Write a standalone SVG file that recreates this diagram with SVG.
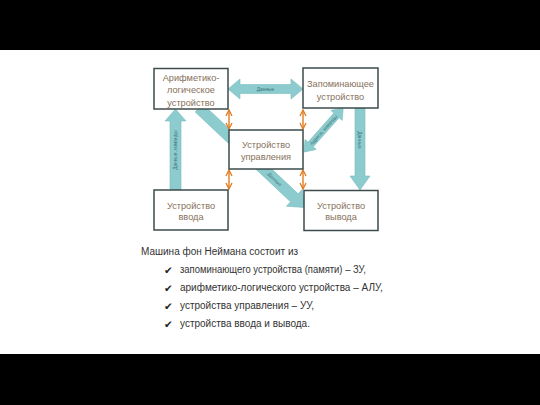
<svg xmlns="http://www.w3.org/2000/svg" width="540" height="405" viewBox="0 0 540 405">
<defs>
<style>
.box{fill:#fff;stroke:#3d4b4b;stroke-width:1.5}
.bt{font-family:"Liberation Sans",Arial,sans-serif;font-size:9.2px;fill:#86705a;text-anchor:middle}
.ar{fill:#8ccbce;stroke:#78bcc0;stroke-width:0.6}
.al{font-family:"Liberation Sans",Arial,sans-serif;font-size:4.8px;fill:#3e7478;text-anchor:middle}
.or{stroke:#e07b20;stroke-width:1.4;fill:none;marker-start:url(#oh);marker-end:url(#oh)}
.tx{font-family:"Liberation Sans",Arial,sans-serif;font-size:10px;fill:#333}
.ck{font-family:"DejaVu Sans",sans-serif;font-size:10.5px;fill:#222}
</style>
<marker id="oh" viewBox="0 0 8 8" refX="7" refY="4" markerWidth="8" markerHeight="8" markerUnits="userSpaceOnUse" orient="auto-start-reverse">
<path d="M1,1 L7,4 L1,7" fill="none" stroke="#e07b20" stroke-width="1.3"/>
</marker>
</defs>
<rect x="0" y="0" width="540" height="405" fill="#fff"/>
<rect x="0" y="0" width="540" height="50" fill="#000"/>
<rect x="0" y="354" width="540" height="51" fill="#000"/>

<g id="connectors">
<polygon class="ar" points="228,89 240,79 240,84.5 291,84.5 291,79 303,89 291,99 291,93.5 240,93.5 240,99"/>
<text class="al" x="265.5" y="90.7">Данные</text>
<polygon class="ar" points="175.5,109 186,121 181,121 181,190 170,190 170,121 165,121"/>
<text class="al" transform="translate(177.2,150) rotate(-90)">Данные, команды</text>
<polygon class="ar" points="355,108 365,108 365,176 370,176 360,190 350,176 355,176"/>
<text class="al" transform="translate(358.3,140) rotate(90)">Данные</text>
<g transform="translate(199,108) rotate(43.3)">
<polygon class="ar" points="0,-5.5 131,-5.5 131,-11.5 145,0 131,11.5 131,5.5 0,5.5"/>
<text class="al" x="104" y="1.7">Данные</text>
</g>
<g transform="translate(304,152) rotate(-48.4)">
<polygon class="ar" points="0,0 10,-7.5 10,-3.5 49,-3.5 49,-7.5 59,0 49,7.5 49,3.5 10,3.5 10,7.5"/>
<text class="al" x="29.5" y="1.7">Адреса, команды</text>
</g>
<line class="or" x1="229" y1="110" x2="229" y2="129"/>
<line class="or" x1="303" y1="110" x2="303" y2="129"/>
<line class="or" x1="229" y1="170" x2="229" y2="189"/>
<line class="or" x1="303" y1="170" x2="303" y2="189"/>
</g>

<g id="alu">
<rect class="box" x="154" y="68.5" width="74" height="40.5"/>
<text class="bt" x="191" y="80.5">Арифметико-</text>
<text class="bt" x="191" y="93">логическое</text>
<text class="bt" x="191" y="105.5">устройство</text>
</g>
<g id="memory">
<rect class="box" x="303" y="68" width="75" height="40"/>
<text class="bt" x="340.5" y="86.5">Запоминающее</text>
<text class="bt" x="340.5" y="99.5">устройство</text>
</g>
<g id="control">
<rect class="box" x="229" y="130" width="74" height="39"/>
<text class="bt" x="266" y="147.5">Устройство</text>
<text class="bt" x="266" y="159.5">управления</text>
</g>
<g id="input">
<rect class="box" x="154" y="190" width="74" height="40"/>
<text class="bt" x="191" y="208.5">Устройство</text>
<text class="bt" x="191" y="220">ввода</text>
</g>
<g id="output">
<rect class="box" x="304" y="190.5" width="74" height="40"/>
<text class="bt" x="341" y="208.5">Устройство</text>
<text class="bt" x="341" y="220">вывода</text>
</g>

<g id="caption">
<text class="tx" x="141" y="254.5">Машина фон Неймана состоит из</text>
<text class="ck" x="164" y="273.5">✔</text>
<text class="tx" x="180" y="272.5" textLength="186" lengthAdjust="spacingAndGlyphs">запоминающего устройства (памяти) – ЗУ,</text>
<text class="ck" x="164" y="291.5">✔</text>
<text class="tx" x="180" y="290.5">арифметико-логического устройства – АЛУ,</text>
<text class="ck" x="164" y="310">✔</text>
<text class="tx" x="180" y="309">устройства управления – УУ,</text>
<text class="ck" x="164" y="327.5">✔</text>
<text class="tx" x="180" y="326.5">устройства ввода и вывода.</text>
</g>
</svg>
